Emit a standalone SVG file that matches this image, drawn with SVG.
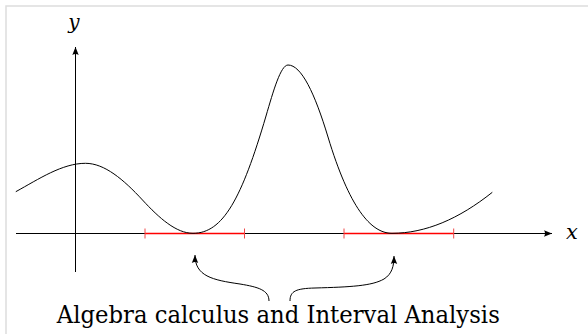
<svg xmlns="http://www.w3.org/2000/svg" width="588" height="334" viewBox="0 0 588 334">
<style>
.ax{stroke:#000;stroke-width:1;fill:none}
.crv{stroke:#000;stroke-width:1;fill:none}
.red{stroke:#ff0000;stroke-width:1.3;fill:none}
.tick{stroke:#f04848;stroke-width:1}
.serif{font-family:"DejaVu Serif", "Liberation Serif", Times, serif;fill:#000}
</style>
<defs>
<marker id="ah" markerUnits="userSpaceOnUse" markerWidth="12" markerHeight="10" viewBox="-9 -5 12 10" refX="0" refY="0" orient="auto">
<path d="M0,0 L-8,-3.2 Q-6,0 -8,3.2 Z" fill="#000"/>
</marker>
</defs>
<rect x="6" y="6" width="620" height="400" fill="none" stroke="#dddddd" stroke-width="1.5"/>
<g id="axes">
<line class="ax" x1="16" y1="233.5" x2="552" y2="233.5" marker-end="url(#ah)"/>
<line class="ax" x1="75.5" y1="272" x2="75.5" y2="47" marker-end="url(#ah)"/>
</g>
<g id="x-label"><text class="serif" x="572" y="238.5" font-style="italic" font-size="21" text-anchor="middle">x</text></g>
<g id="y-label"><text class="serif" x="74" y="29" font-style="italic" font-size="20" text-anchor="middle">y</text></g>
<g id="intervals">
<line class="red" x1="145" y1="233.5" x2="244.5" y2="233.5"/>
<line class="red" x1="344" y1="233.5" x2="453.7" y2="233.5"/>
<line class="tick" x1="145" y1="228.5" x2="145" y2="238.5"/>
<line class="tick" x1="244.5" y1="228.5" x2="244.5" y2="238.5"/>
<line class="tick" x1="344" y1="228.5" x2="344" y2="238.5"/>
<line class="tick" x1="453.7" y1="228.5" x2="453.7" y2="238.5"/>
</g>
<g id="function">
<path class="crv" d="M15.8,191.7 C39.03,178.92 62.27,163.3 85.5,163.3 C104.5,163.3 123.5,179.48 142.5,200 C159.33,218.18 176.17,233.3 193,233.3 C223,233.3 241.67,198.7 266,116 C273.33,91.1 280.67,65 288,65 C301.33,65 314.67,93 328,137 C349.33,207.4 370.67,233.3 392,233.3 C425.43,233.3 458.87,219 492.3,192.3"/>
</g>
<g id="connectors">
<path class="crv" d="M269,301 C269,290 258,287 240,284 C212,280 195,276 195,255" marker-end="url(#ah)"/>
<path class="crv" d="M290,301 C290,291 296,288.5 315,288 C350,287 372,286 384,279 C392,274 394,266 394,256" marker-end="url(#ah)"/>
</g>
<g id="caption"><text class="serif" x="278.3" y="322.5" font-size="24" text-anchor="middle" textLength="443" lengthAdjust="spacingAndGlyphs">Algebra calculus and Interval Analysis</text></g>
</svg>
